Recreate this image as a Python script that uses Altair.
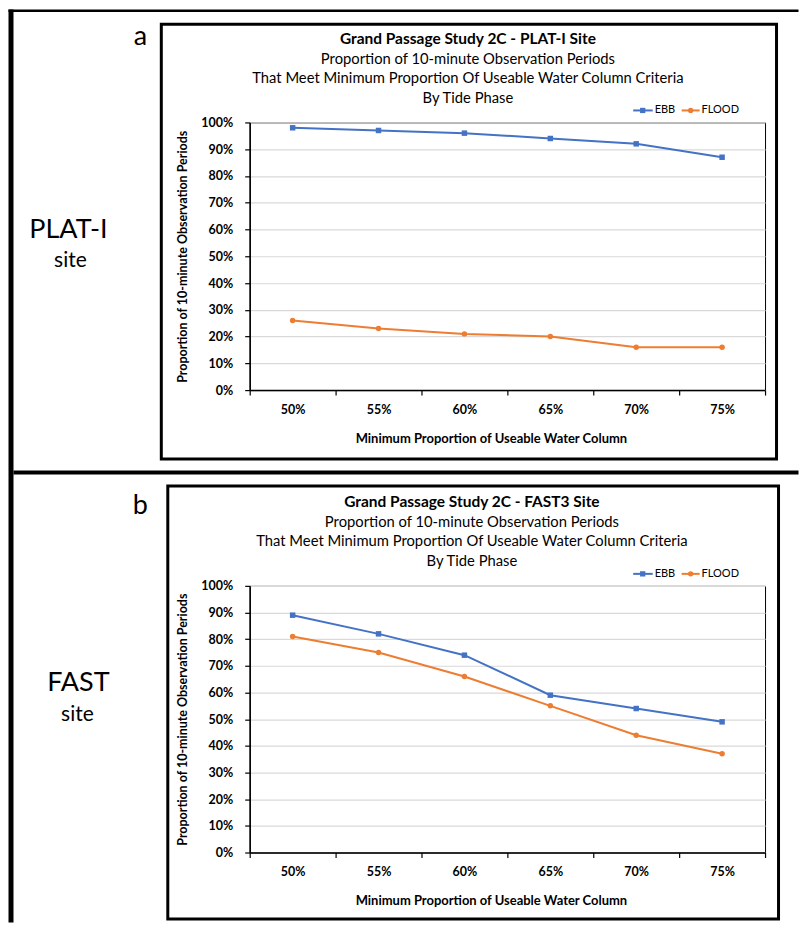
import altair as alt
import pandas as pd

# ---------------- data ----------------
X_LABELS = ["50%", "55%", "60%", "65%", "70%", "75%"]
SERIES = ["EBB", "FLOOD"]
PLAT_EBB = [0.98, 0.97, 0.96, 0.94, 0.92, 0.87]
PLAT_FLOOD = [0.26, 0.23, 0.21, 0.20, 0.16, 0.16]
FAST_EBB = [0.89, 0.82, 0.74, 0.59, 0.54, 0.49]
FAST_FLOOD = [0.81, 0.75, 0.66, 0.55, 0.44, 0.37]
Y_TICKS = [0.0, 0.1, 0.2, 0.3, 0.4, 0.5, 0.6, 0.7, 0.8, 0.9, 1.0]

TITLE_PLAT = [
    "Grand Passage Study 2C - PLAT-I Site",
    "Proportion of 10-minute Observation Periods",
    "That Meet Minimum Proportion Of Useable Water Column Criteria",
    "By Tide Phase",
]
TITLE_FAST = [
    "Grand Passage Study 2C - FAST3 Site",
    "Proportion of 10-minute Observation Periods",
    "That Meet Minimum Proportion Of Useable Water Column Criteria",
    "By Tide Phase",
]
Y_TITLE = "Proportion of 10-minute Observation Periods"
X_TITLE = "Minimum Proportion of Useable Water Column"
PANEL_LETTERS = ["a", "b"]
SITE_NAMES = ["PLAT-I", "FAST"]
SITE_WORD = "site"

COLORS = ["#4472C4", "#ED7D31"]
SHAPES = ["square", "circle"]
FONT = "Lato"
W = 516
H_TOP = 268
H_BOT = 267

one = pd.DataFrame({"k": [0]})


def rect(x1, x2, y1, y2, fill="#000"):
    return alt.Chart(one).mark_rect(fill=fill).encode(
        x=alt.value(x1), x2=alt.value(x2), y=alt.value(y1), y2=alt.value(y2))


def box(x1, x2, y1, y2, sw=3):
    return alt.Chart(one).mark_rect(fillOpacity=0, stroke="#000", strokeWidth=sw).encode(
        x=alt.value(x1), x2=alt.value(x2), y=alt.value(y1), y2=alt.value(y2))


def label(text, x, y, size, weight="normal", align="center", baseline="middle", color="#000"):
    return alt.Chart(one).mark_text(
        text=text, font=FONT, fontSize=size, fontWeight=weight, align=align,
        baseline=baseline, color=color).encode(x=alt.value(x), y=alt.value(y))


def legend_layers():
    out = []
    specs = [(384, 403.5, 393.5, 405.5), (432.5, 450.5, 441.5, 452.5)]
    for i, (a, b, m, t) in enumerate(specs):
        out.append(alt.Chart(one).mark_rule(color=COLORS[i], strokeWidth=2).encode(
            x=alt.value(a), x2=alt.value(b), y=alt.value(-12)))
        out.append(alt.Chart(one).mark_point(shape=SHAPES[i], filled=True, opacity=1,
                                             size=28, color=COLORS[i]).encode(
            x=alt.value(m), y=alt.value(-12)))
        out.append(label(SERIES[i], t, -12, 11, align="left"))
    return out


def panel(ebb, flood, title_lines, height, deco):
    df = pd.DataFrame({
        "level": X_LABELS * 2,
        "series": [SERIES[0]] * len(ebb) + [SERIES[1]] * len(flood),
        "value": ebb + flood,
    })
    base = alt.Chart(df)
    x = alt.X("level:N", sort=X_LABELS,
              scale=alt.Scale(type="band", paddingInner=0, paddingOuter=0),
              axis=alt.Axis(title=X_TITLE, tickBand="extent", labelAngle=0, grid=False,
                            tickSize=5, labelPadding=14.5, labelBaseline="middle",
                            labelFont=FONT, labelFontSize=12.5, labelFontWeight="bold",
                            labelColor="#000", domainColor="#000", domainWidth=1.5,
                            tickColor="#000", tickWidth=1.2, titleFont=FONT, titleFontSize=13,
                            titleFontWeight="bold", titleColor="#000",
                            titleX=241.5, titleY=48, titleAlign="center",
                            titleBaseline="middle"))
    y = alt.Y("value:Q", scale=alt.Scale(domain=[0, 1], nice=False),
              axis=alt.Axis(title=Y_TITLE, values=Y_TICKS, format=".0%", grid=True,
                            gridColor="#d9d9d9", gridWidth=1.2, tickSize=5, labelPadding=12,
                            labelFont=FONT, labelFontSize=12.5, labelFontWeight="bold",
                            labelColor="#000", domainColor="#000", domainWidth=1.5,
                            tickColor="#000", tickWidth=1.2, titleFont=FONT, titleFontSize=12.5,
                            titleFontWeight="bold", titleColor="#000",
                            titleX=-67, titleY=height / 2, titleAngle=270,
                            titleAlign="center", titleBaseline="middle"))
    color = alt.Color("series:N", scale=alt.Scale(domain=SERIES, range=COLORS), legend=None)
    shape = alt.Shape("series:N", scale=alt.Scale(domain=SERIES, range=SHAPES), legend=None)
    lines = base.mark_line(strokeWidth=2).encode(x=x, y=y, color=color)
    pts = base.mark_point(filled=True, opacity=1, size=30).encode(x=x, y=y, color=color, shape=shape)

    tx = deco["title_x"]
    titles = [
        label(title_lines[0], tx, -83.5, 15.5, weight="bold"),
        label(title_lines[1], tx, -63, 14.8),
        label(title_lines[2], tx, -43.5, 14.8),
        label(title_lines[3], tx, -23.5, 14.8),
    ]
    layers = deco["frames"] + titles + legend_layers() + [lines, pts]
    return alt.layer(*layers).properties(width=W, height=height)


top_deco = {
    "title_x": 218.5,
    "frames": [
        rect(-241.5, 549.5, -113, -110.5),        # outer top line
        rect(-241.5, -236.5, -113, 801),          # outer left line
        rect(-236.5, 549.5, 348.5, 352.5),        # divider
        box(-88.5, 527.5, -98.3, 337),            # chart box a
        label(PANEL_LETTERS[0], -109.5, -78, 27, baseline="alphabetic"),
        label(SITE_NAMES[0], -181.5, 116, 27, baseline="alphabetic"),
        label(SITE_WORD, -179.5, 145, 21, baseline="alphabetic"),
    ],
}
bot_deco = {
    "title_x": 222.5,
    "frames": [
        box(-82, 529.5, -100, 333.5),             # chart box b
        label(PANEL_LETTERS[1], -109.5, -72, 27, baseline="alphabetic"),
        label(SITE_NAMES[1], -171.5, 105, 27, baseline="alphabetic"),
        label(SITE_WORD, -172.5, 135, 21, baseline="alphabetic"),
    ],
}

top = panel(PLAT_EBB, PLAT_FLOOD, TITLE_PLAT, H_TOP, top_deco)
bot = panel(FAST_EBB, FAST_FLOOD, TITLE_FAST, H_BOT, bot_deco)

chart = alt.vconcat(top, bot, spacing=196, bounds="flush").properties(
    padding=0, background="#ffffff"
).configure_view(stroke="#000", strokeWidth=1)

chart.save("out.html", embed_options={"renderer": "svg", "actions": False})
